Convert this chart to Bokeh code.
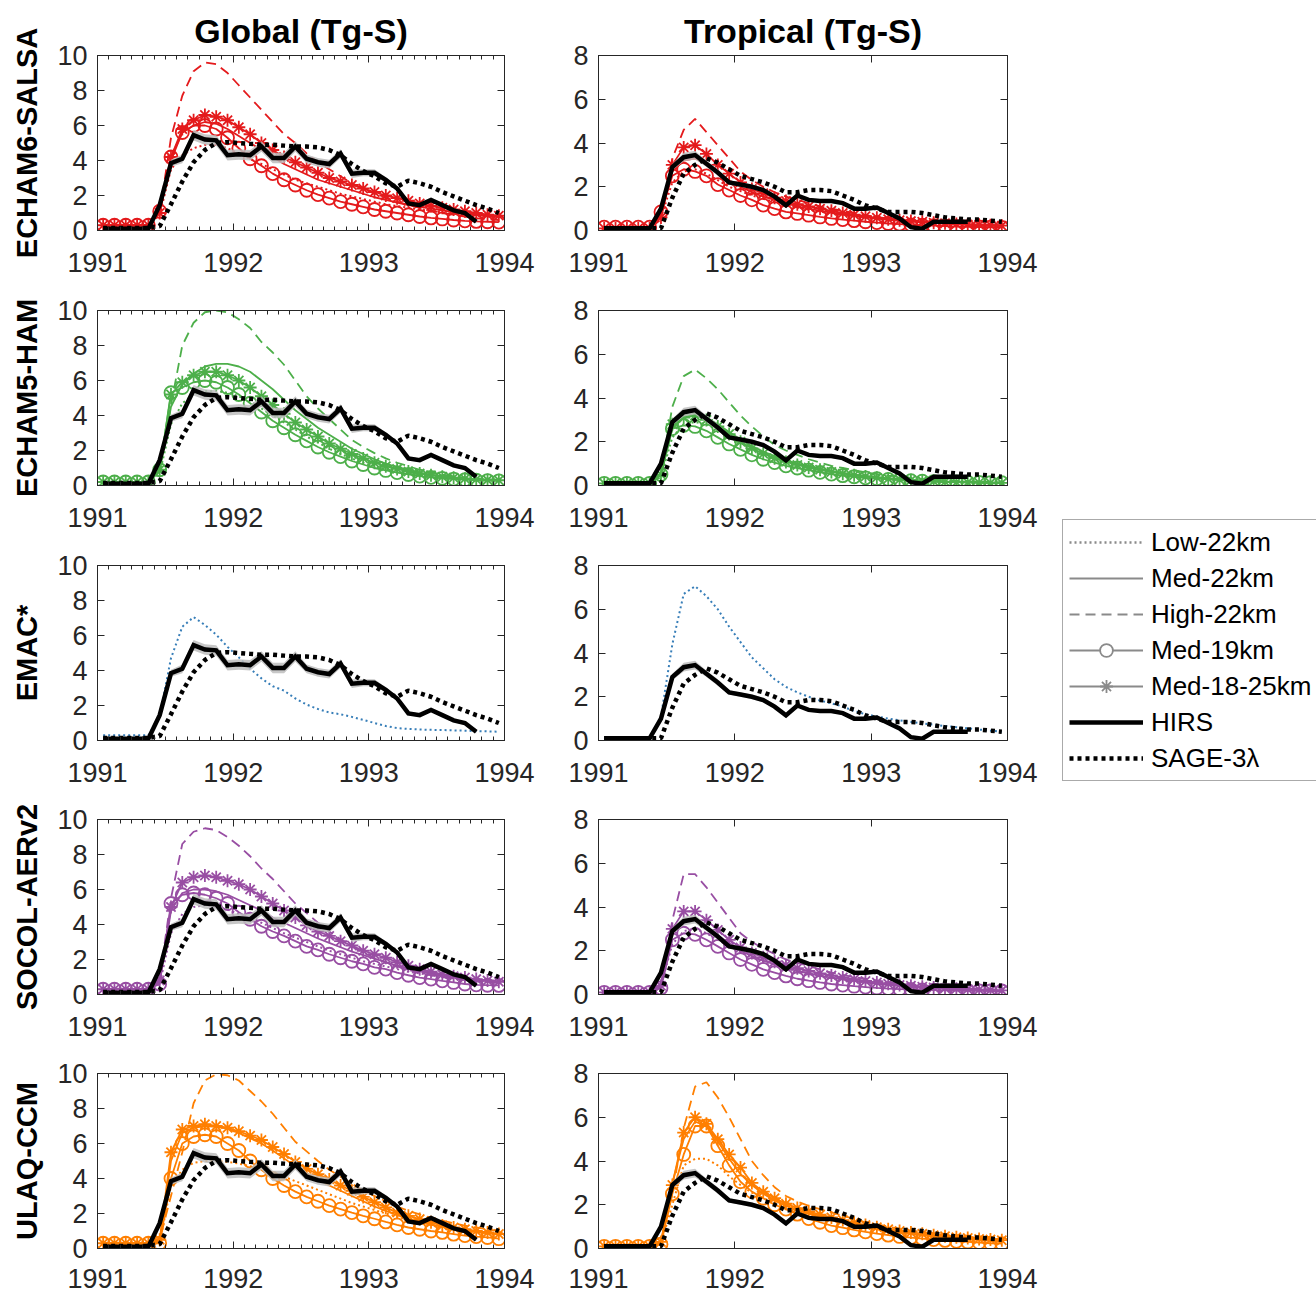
from bokeh.plotting import figure
from bokeh.layouts import row, column
from bokeh.models import (FixedTicker, LinearAxis, Legend, LegendItem, Spacer, Range1d,
                          ColumnDataSource, CustomLabelingPolicy)
from bokeh.embed import file_html
from bokeh.resources import INLINE

# ---------------- data (Tg-S), monthly mid-month values Jan 1991 .. Dec 1993 ----------------
months = list(range(36))
year_ticks = [1991, 1992, 1993, 1994]
glob_yticks = [0, 2, 4, 6, 8, 10]
trop_yticks = [0, 2, 4, 6, 8]

hirs_glob = [0.1, 0.1, 0.1, 0.1, 0.1, 1.45, 3.85, 4.1, 5.45, 5.2, 5.15, 4.3, 4.35, 4.3, 4.8,
             4.15, 4.15, 4.8, 4.1, 3.9, 3.8, 4.4, 3.25, 3.3, 3.3, 2.9, 2.4, 1.55, 1.45, 1.75,
             1.45, 1.15, 1.0, 0.5]
hirs_glob_err = [0, 0, 0, 0, 0, 0.1, 0.2, 0.25, 0.3, 0.3, 0.3, 0.3, 0.3, 0.3, 0.3,
                 0.3, 0.3, 0.3, 0.25, 0.25, 0.25, 0.25, 0.25, 0.2, 0.2, 0.15, 0.1, 0.1, 0.1, 0.1,
                 0.1, 0.1, 0.1, 0.1]
hirs_trop = [0.1, 0.1, 0.1, 0.1, 0.1, 1.0, 2.9, 3.35, 3.45, 3.05, 2.65, 2.2, 2.1, 2.0, 1.85,
             1.55, 1.15, 1.6, 1.4, 1.35, 1.35, 1.25, 1.0, 1.0, 1.05, 0.8, 0.55, 0.15, 0.08, 0.4,
             0.4, 0.4, 0.4]
hirs_trop_err = [0, 0, 0, 0, 0, 0.05, 0.15, 0.2, 0.2, 0.15, 0.15, 0.1, 0.1, 0.1, 0.1,
                 0.1, 0.08, 0.08, 0.08, 0.08, 0.08, 0.08, 0.08, 0.08, 0.08, 0.05, 0.05, 0.05, 0.05, 0.05,
                 0.05, 0.05, 0.05]
sage_glob = [0.15, 0.15, 0.15, 0.15, 0.15, 0.25, 1.5, 2.8, 3.9, 4.6, 5.0, 5.05, 5.0, 4.95, 4.9,
             4.9, 4.85, 4.8, 4.8, 4.75, 4.6, 4.3, 3.8, 3.4, 3.1, 2.7, 2.5, 2.85, 2.7, 2.5,
             2.2, 1.95, 1.7, 1.45, 1.25, 1.0]
sage_trop = [0.1, 0.1, 0.1, 0.1, 0.1, 0.1, 1.5, 2.6, 3.0, 3.3, 3.1, 2.8, 2.5, 2.35, 2.2,
             2.0, 1.75, 1.75, 1.85, 1.85, 1.8, 1.6, 1.4, 1.15, 1.0, 0.85, 0.85, 0.85, 0.8, 0.7,
             0.6, 0.55, 0.5, 0.5, 0.45, 0.4]

# ECHAM6-SALSA
e6g_low = [0.3, 0.3, 0.3, 0.3, 0.3, 0.9, 3.5, 4.3, 4.7, 4.9, 4.9, 4.7, 4.4, 4.1, 3.8, 3.5, 3.2, 2.9, 2.7, 2.5,
           2.3, 2.1, 1.95, 1.8, 1.65, 1.5, 1.4, 1.3, 1.2, 1.1, 1.0, 0.95, 0.9, 0.85, 0.8, 0.75]
e6g_med = [0.3, 0.3, 0.3, 0.3, 0.3, 1.0, 4.0, 5.6, 6.0, 6.2, 6.1, 5.8, 5.4, 5.0, 4.6, 4.2, 3.8, 3.5, 3.2, 2.9,
           2.7, 2.5, 2.3, 2.1, 1.9, 1.75, 1.6, 1.45, 1.35, 1.25, 1.15, 1.05, 0.95, 0.9, 0.85, 0.8]
e6g_high = [0.3, 0.3, 0.3, 0.3, 0.3, 1.0, 5.3, 7.7, 9.1, 9.6, 9.5, 9.0, 8.3, 7.6, 6.9, 6.2, 5.5, 5.0, 4.4, 3.9,
            3.5, 3.1, 2.7, 2.4, 2.1, 1.85, 1.65, 1.45, 1.3, 1.15, 1.0, 0.9, 0.8, 0.7, 0.65, 0.6]
e6g_m19 = [0.3, 0.3, 0.3, 0.3, 0.3, 1.1, 4.2, 5.6, 6.0, 6.0, 5.8, 5.3, 4.7, 4.1, 3.7, 3.25, 2.9, 2.6, 2.3, 2.05,
           1.85, 1.65, 1.5, 1.35, 1.2, 1.1, 1.0, 0.9, 0.8, 0.72, 0.66, 0.6, 0.55, 0.52, 0.5, 0.48]
e6g_m1825 = [0.3, 0.3, 0.3, 0.3, 0.3, 1.0, 4.2, 5.8, 6.3, 6.6, 6.5, 6.3, 5.9, 5.5, 5.0, 4.6, 4.2, 3.9, 3.6, 3.3,
             3.0, 2.8, 2.6, 2.4, 2.2, 2.0, 1.85, 1.7, 1.55, 1.4, 1.3, 1.2, 1.1, 1.0, 0.9, 0.85]
e6t_low = [0.1, 0.1, 0.1, 0.1, 0.1, 0.6, 2.2, 2.7, 2.8, 2.6, 2.3, 2.0, 1.8, 1.6, 1.45, 1.3, 1.15, 1.05, 0.95, 0.87,
           0.8, 0.72, 0.66, 0.6, 0.55, 0.5, 0.46, 0.42, 0.39, 0.36, 0.33, 0.31, 0.29, 0.27, 0.25, 0.24]
e6t_med = [0.1, 0.1, 0.1, 0.1, 0.1, 0.7, 2.7, 3.2, 3.3, 3.0, 2.6, 2.3, 2.0, 1.75, 1.55, 1.4, 1.25, 1.1, 1.0, 0.9,
           0.82, 0.74, 0.66, 0.6, 0.54, 0.49, 0.45, 0.41, 0.37, 0.34, 0.31, 0.28, 0.26, 0.24, 0.22, 0.2]
e6t_high = [0.1, 0.1, 0.1, 0.1, 0.1, 0.5, 3.3, 4.6, 5.1, 4.5, 3.9, 3.3, 2.7, 2.3, 2.0, 1.75, 1.55, 1.4, 1.25, 1.1,
            1.0, 0.9, 0.8, 0.7, 0.62, 0.55, 0.5, 0.45, 0.4, 0.37, 0.34, 0.31, 0.29, 0.27, 0.25, 0.24]
e6t_m19 = [0.15, 0.15, 0.15, 0.15, 0.15, 0.85, 2.5, 2.8, 2.7, 2.5, 2.1, 1.85, 1.6, 1.4, 1.16, 1.0, 0.85, 0.78, 0.7, 0.62,
           0.55, 0.5, 0.45, 0.4, 0.36, 0.32, 0.29, 0.26, 0.24, 0.22, 0.2, 0.18, 0.17, 0.16, 0.15, 0.14]
e6t_m1825 = [0.1, 0.1, 0.1, 0.1, 0.1, 0.6, 3.0, 3.8, 3.9, 3.5, 3.0, 2.6, 2.2, 1.9, 1.7, 1.5, 1.35, 1.2, 1.1, 1.0,
             0.9, 0.8, 0.72, 0.65, 0.58, 0.52, 0.47, 0.43, 0.4, 0.36, 0.33, 0.3, 0.28, 0.26, 0.24, 0.22]

# ECHAM5-HAM
e5g_low = [0.2, 0.2, 0.2, 0.2, 0.2, 0.7, 3.5, 4.7, 5.2, 5.4, 5.4, 5.3, 5.1, 4.8, 4.4, 4.0, 3.6, 3.2, 2.8, 2.45,
           2.1, 1.8, 1.55, 1.3, 1.1, 0.95, 0.8, 0.68, 0.58, 0.5, 0.44, 0.39, 0.35, 0.32, 0.3, 0.28]
e5g_med = [0.2, 0.2, 0.2, 0.2, 0.2, 0.8, 4.5, 5.8, 6.4, 6.8, 6.95, 6.95, 6.8, 6.5, 6.0, 5.5, 4.9, 4.3, 3.8, 3.3,
           2.9, 2.5, 2.1, 1.8, 1.5, 1.25, 1.05, 0.88, 0.74, 0.62, 0.53, 0.46, 0.41, 0.37, 0.34, 0.32]
e5g_high = [0.2, 0.2, 0.2, 0.2, 0.2, 1.0, 4.6, 8.0, 9.3, 9.9, 10.0, 9.9, 9.5, 9.0, 8.2, 7.6, 6.9, 6.0, 5.1, 4.4,
            3.8, 3.2, 2.6, 2.2, 1.85, 1.55, 1.3, 1.1, 0.9, 0.75, 0.62, 0.52, 0.45, 0.4, 0.36, 0.33]
e5g_m19 = [0.2, 0.2, 0.2, 0.2, 0.2, 0.9, 5.3, 5.6, 5.9, 6.0, 5.9, 5.6, 5.2, 4.7, 4.2, 3.7, 3.3, 2.9, 2.55, 2.2,
           1.9, 1.65, 1.4, 1.2, 1.0, 0.86, 0.74, 0.63, 0.54, 0.47, 0.41, 0.37, 0.33, 0.3, 0.28, 0.27]
e5g_m1825 = [0.2, 0.2, 0.2, 0.2, 0.2, 0.9, 5.2, 5.9, 6.3, 6.5, 6.5, 6.3, 6.0, 5.6, 5.1, 4.6, 4.1, 3.6, 3.2, 2.8,
             2.4, 2.1, 1.8, 1.55, 1.3, 1.1, 0.95, 0.8, 0.68, 0.58, 0.5, 0.44, 0.39, 0.35, 0.32, 0.3]
e5t_low = [0.1, 0.1, 0.1, 0.1, 0.1, 0.4, 2.2, 2.8, 2.9, 2.8, 2.55, 2.25, 1.95, 1.7, 1.45, 1.25, 1.1, 0.95, 0.83, 0.72,
           0.63, 0.55, 0.48, 0.42, 0.37, 0.32, 0.28, 0.25, 0.22, 0.2, 0.18, 0.16, 0.15, 0.14, 0.13, 0.12]
e5t_med = [0.1, 0.1, 0.1, 0.1, 0.1, 0.5, 2.6, 3.1, 3.3, 3.1, 2.8, 2.45, 2.1, 1.8, 1.55, 1.35, 1.15, 1.0, 0.88, 0.77,
           0.67, 0.58, 0.5, 0.44, 0.38, 0.33, 0.29, 0.25, 0.22, 0.2, 0.18, 0.16, 0.15, 0.14, 0.13, 0.12]
e5t_high = [0.1, 0.1, 0.1, 0.1, 0.1, 0.6, 3.6, 5.0, 5.3, 4.9, 4.4, 3.8, 3.2, 2.7, 2.25, 1.85, 1.6, 1.4, 1.2, 1.05,
            0.9, 0.8, 0.7, 0.6, 0.52, 0.45, 0.4, 0.35, 0.3, 0.27, 0.24, 0.21, 0.19, 0.17, 0.16, 0.15]
e5t_m19 = [0.1, 0.1, 0.1, 0.1, 0.1, 0.5, 2.6, 2.75, 2.7, 2.5, 2.2, 1.9, 1.65, 1.4, 1.2, 1.05, 0.9, 0.8, 0.7, 0.6,
           0.52, 0.45, 0.4, 0.35, 0.31, 0.28, 0.25, 0.22, 0.2, 0.18, 0.17, 0.16, 0.15, 0.14, 0.13, 0.13]
e5t_m1825 = [0.1, 0.1, 0.1, 0.1, 0.1, 0.5, 2.8, 3.1, 3.2, 3.0, 2.7, 2.35, 2.0, 1.7, 1.45, 1.25, 1.08, 0.94, 0.82, 0.72,
             0.62, 0.54, 0.47, 0.41, 0.36, 0.31, 0.27, 0.24, 0.21, 0.19, 0.17, 0.15, 0.14, 0.13, 0.12, 0.12]

# EMAC (single experiment)
emac_g = [0.3, 0.3, 0.3, 0.3, 0.3, 1.4, 4.7, 6.5, 7.05, 6.6, 6.05, 5.35, 4.75, 4.1, 3.55, 3.1, 2.85, 2.4, 2.05, 1.8,
          1.6, 1.5, 1.35, 1.18, 1.0, 0.83, 0.71, 0.66, 0.63, 0.61, 0.6, 0.58, 0.56, 0.54, 0.52, 0.5]
emac_t = [0.1, 0.1, 0.1, 0.1, 0.1, 1.1, 4.4, 6.7, 7.05, 6.6, 6.0, 5.2, 4.5, 3.8, 3.3, 2.8, 2.45, 2.2, 2.0, 1.82,
          1.7, 1.55, 1.35, 1.2, 1.1, 1.0, 0.92, 0.85, 0.78, 0.72, 0.66, 0.61, 0.56, 0.5, 0.45, 0.4]

# SOCOL-AERv2
sg_low = [0.3, 0.3, 0.3, 0.3, 0.3, 0.6, 3.5, 4.6, 5.0, 5.1, 5.0, 4.85, 4.6, 4.35, 4.1, 3.8, 3.5, 3.25, 3.0, 2.75,
          2.5, 2.3, 2.1, 1.9, 1.75, 1.6, 1.45, 1.3, 1.2, 1.1, 1.0, 0.92, 0.85, 0.78, 0.72, 0.67]
sg_med = [0.3, 0.3, 0.3, 0.3, 0.3, 0.7, 4.8, 5.8, 6.0, 6.0, 5.9, 5.7, 5.4, 5.1, 4.8, 4.4, 4.1, 3.8, 3.5, 3.2,
          2.95, 2.7, 2.45, 2.25, 2.05, 1.85, 1.65, 1.5, 1.35, 1.2, 1.1, 1.0, 0.9, 0.82, 0.76, 0.7]
sg_high = [0.3, 0.3, 0.3, 0.3, 0.3, 0.9, 5.5, 8.6, 9.3, 9.5, 9.4, 9.0, 8.5, 7.9, 7.2, 6.6, 5.9, 5.2, 4.65, 4.1,
           3.6, 3.15, 2.75, 2.4, 2.1, 1.85, 1.6, 1.4, 1.25, 1.1, 1.0, 0.9, 0.82, 0.75, 0.7, 0.65]
sg_m19 = [0.3, 0.3, 0.3, 0.3, 0.3, 0.6, 5.2, 5.7, 5.8, 5.7, 5.5, 5.2, 4.7, 4.3, 3.9, 3.6, 3.35, 3.05, 2.75, 2.55,
          2.3, 2.1, 1.9, 1.75, 1.55, 1.45, 1.25, 1.1, 0.97, 0.88, 0.78, 0.69, 0.6, 0.55, 0.53, 0.52]
sg_m1825 = [0.3, 0.3, 0.3, 0.3, 0.3, 0.8, 5.0, 6.4, 6.7, 6.8, 6.7, 6.5, 6.3, 6.0, 5.6, 5.2, 4.8, 4.4, 3.95, 3.6,
            3.35, 3.05, 2.8, 2.5, 2.3, 2.1, 1.85, 1.65, 1.45, 1.3, 1.15, 1.05, 0.97, 0.88, 0.8, 0.73]
st_low = [0.1, 0.1, 0.1, 0.1, 0.1, 0.4, 2.3, 2.9, 3.0, 2.8, 2.5, 2.2, 1.95, 1.72, 1.52, 1.35, 1.2, 1.07, 0.96, 0.86,
          0.77, 0.69, 0.62, 0.56, 0.5, 0.45, 0.41, 0.37, 0.34, 0.31, 0.28, 0.26, 0.24, 0.22, 0.21, 0.2]
st_med = [0.1, 0.1, 0.1, 0.1, 0.1, 0.4, 2.9, 3.4, 3.4, 3.1, 2.7, 2.35, 2.0, 1.75, 1.55, 1.38, 1.22, 1.08, 0.96, 0.86,
          0.77, 0.69, 0.62, 0.55, 0.49, 0.44, 0.39, 0.35, 0.32, 0.29, 0.26, 0.24, 0.22, 0.2, 0.19, 0.18]
st_high = [0.1, 0.1, 0.1, 0.1, 0.1, 0.5, 3.4, 5.5, 5.5, 4.9, 4.2, 3.5, 2.8, 2.4, 2.1, 1.85, 1.6, 1.45, 1.3, 1.15,
           1.0, 0.9, 0.8, 0.72, 0.64, 0.57, 0.5, 0.45, 0.4, 0.36, 0.33, 0.3, 0.28, 0.26, 0.24, 0.22]
st_m19 = [0.1, 0.1, 0.1, 0.1, 0.1, 0.3, 2.5, 2.8, 2.75, 2.5, 2.2, 1.9, 1.6, 1.38, 1.15, 1.0, 0.85, 0.72, 0.63, 0.55,
          0.48, 0.43, 0.38, 0.34, 0.3, 0.27, 0.25, 0.23, 0.21, 0.2, 0.19, 0.18, 0.17, 0.17, 0.16, 0.16]
st_m1825 = [0.1, 0.1, 0.1, 0.1, 0.1, 0.4, 3.0, 3.8, 3.8, 3.4, 2.95, 2.5, 2.15, 1.9, 1.7, 1.5, 1.35, 1.2, 1.08, 0.97,
            0.87, 0.78, 0.7, 0.62, 0.55, 0.49, 0.44, 0.4, 0.36, 0.32, 0.29, 0.26, 0.24, 0.22, 0.2, 0.19]

# ULAQ-CCM
ug_low = [0.3, 0.3, 0.3, 0.3, 0.3, 0.3, 3.6, 4.5, 4.9, 5.0, 5.0, 4.95, 4.85, 4.7, 4.55, 4.35, 4.1, 3.85, 3.6, 3.35,
          3.1, 2.85, 2.6, 2.4, 2.2, 2.0, 1.82, 1.65, 1.5, 1.37, 1.25, 1.15, 1.05, 0.97, 0.9, 0.83]
ug_med = [0.3, 0.3, 0.3, 0.3, 0.3, 0.4, 5.0, 6.6, 6.9, 7.0, 6.95, 6.85, 6.6, 6.3, 6.0, 5.6, 5.15, 4.7, 4.3, 3.95,
          3.6, 3.3, 3.0, 2.7, 2.4, 2.15, 1.9, 1.7, 1.52, 1.37, 1.23, 1.12, 1.02, 0.94, 0.87, 0.8]
ug_high = [0.3, 0.3, 0.3, 0.3, 0.3, 0.5, 3.0, 5.5, 8.3, 9.6, 9.95, 9.9, 9.6, 9.0, 8.4, 7.7, 6.9, 6.1, 5.55, 5.0,
           4.5, 4.1, 3.7, 3.3, 3.0, 2.7, 2.4, 2.15, 1.95, 1.75, 1.6, 1.45, 1.3, 1.2, 1.1, 1.0]
ug_m19 = [0.3, 0.3, 0.3, 0.3, 0.3, 0.3, 4.0, 6.0, 6.4, 6.5, 6.4, 6.0, 5.6, 5.0, 4.5, 4.0, 3.6, 3.25, 2.95, 2.7,
          2.45, 2.25, 2.05, 1.87, 1.7, 1.52, 1.35, 1.2, 1.1, 1.0, 0.92, 0.82, 0.74, 0.68, 0.63, 0.56]
ug_m1825 = [0.3, 0.3, 0.3, 0.3, 0.3, 0.5, 5.5, 6.8, 7.0, 7.1, 7.0, 6.9, 6.7, 6.45, 6.2, 5.8, 5.4, 4.95, 4.55, 4.25,
            3.95, 3.6, 3.3, 2.95, 2.65, 2.35, 2.05, 1.87, 1.68, 1.5, 1.32, 1.2, 1.1, 1.0, 0.92, 0.83]
ut_low = [0.1, 0.1, 0.1, 0.1, 0.1, 0.2, 2.0, 3.8, 4.1, 4.1, 3.8, 3.3, 2.9, 2.55, 2.3, 2.1, 1.9, 1.75, 1.6, 1.47,
          1.35, 1.23, 1.12, 1.02, 0.93, 0.85, 0.78, 0.72, 0.66, 0.61, 0.56, 0.52, 0.48, 0.45, 0.42, 0.39]
ut_med = [0.1, 0.1, 0.1, 0.1, 0.1, 0.3, 3.0, 5.0, 5.8, 5.6, 4.9, 4.1, 3.4, 2.9, 2.5, 2.2, 1.95, 1.75, 1.58, 1.43,
          1.3, 1.18, 1.07, 0.97, 0.88, 0.8, 0.73, 0.66, 0.6, 0.55, 0.5, 0.46, 0.42, 0.39, 0.36, 0.33]
ut_high = [0.1, 0.1, 0.1, 0.1, 0.1, 0.3, 2.5, 5.5, 7.4, 7.6, 6.9, 6.0, 5.0, 4.0, 3.35, 2.8, 2.4, 2.15, 1.95, 1.8,
           1.65, 1.5, 1.35, 1.2, 1.1, 1.0, 0.9, 0.82, 0.75, 0.69, 0.63, 0.58, 0.53, 0.49, 0.45, 0.42]
ut_m19 = [0.1, 0.1, 0.1, 0.1, 0.1, 0.2, 2.5, 4.3, 5.6, 5.6, 4.7, 3.8, 3.05, 2.6, 2.3, 2.0, 1.8, 1.57, 1.37, 1.2,
          1.05, 0.95, 0.85, 0.76, 0.68, 0.61, 0.55, 0.5, 0.45, 0.41, 0.37, 0.33, 0.3, 0.27, 0.24, 0.22]
ut_m1825 = [0.1, 0.1, 0.1, 0.1, 0.1, 0.3, 2.9, 5.3, 6.0, 5.7, 5.0, 4.3, 3.7, 3.0, 2.6, 2.3, 2.05, 1.85, 1.7, 1.55,
            1.42, 1.3, 1.18, 1.07, 0.97, 0.88, 0.8, 0.73, 0.67, 0.61, 0.56, 0.52, 0.48, 0.44, 0.41, 0.38]

model_names = ["ECHAM6-SALSA", "ECHAM5-HAM", "EMAC*", "SOCOL-AERv2", "ULAQ-CCM"]
model_colors = ["#e41a1c", "#4daf4a", "#377eb8", "#984ea3", "#ff7f00"]
exp_names = ["Low-22km", "Med-22km", "High-22km", "Med-19km", "Med-18-25km"]

model_glob = [
    {"Low-22km": e6g_low, "Med-22km": e6g_med, "High-22km": e6g_high, "Med-19km": e6g_m19, "Med-18-25km": e6g_m1825},
    {"Low-22km": e5g_low, "Med-22km": e5g_med, "High-22km": e5g_high, "Med-19km": e5g_m19, "Med-18-25km": e5g_m1825},
    {"Low-22km": emac_g},
    {"Low-22km": sg_low, "Med-22km": sg_med, "High-22km": sg_high, "Med-19km": sg_m19, "Med-18-25km": sg_m1825},
    {"Low-22km": ug_low, "Med-22km": ug_med, "High-22km": ug_high, "Med-19km": ug_m19, "Med-18-25km": ug_m1825},
]
model_trop = [
    {"Low-22km": e6t_low, "Med-22km": e6t_med, "High-22km": e6t_high, "Med-19km": e6t_m19, "Med-18-25km": e6t_m1825},
    {"Low-22km": e5t_low, "Med-22km": e5t_med, "High-22km": e5t_high, "Med-19km": e5t_m19, "Med-18-25km": e5t_m1825},
    {"Low-22km": emac_t},
    {"Low-22km": st_low, "Med-22km": st_med, "High-22km": st_high, "Med-19km": st_m19, "Med-18-25km": st_m1825},
    {"Low-22km": ut_low, "Med-22km": ut_med, "High-22km": ut_high, "Med-19km": ut_m19, "Med-18-25km": ut_m1825},
]

# ---------------- styling ----------------
FONT = "Liberation Sans"
AXC = "#262626"
TICK_PX = "27px"
FRAME_H = 175
# per-row borders: (top, bottom, x-label standoff)
ROW_BORDERS = [(55, 50, 22), (30, 50, 22), (30, 50, 22), (29, 50, 22), (29, 47, 20)]

HIDE_ALL = CustomLabelingPolicy(code="""
for (const i of Array.from(indices)) { indices.unset(i) }
return indices
""")


def tvals(n):
    return [1991 + (m + 0.5) / 12.0 for m in range(n)]


def style_axis(ax, labels=True):
    ax.axis_line_color = AXC
    ax.axis_line_width = 1
    ax.major_tick_line_color = AXC
    ax.minor_tick_line_color = AXC
    ax.major_tick_in = 7
    ax.major_tick_out = 0
    ax.minor_tick_in = 4
    ax.minor_tick_out = 0
    ax.major_label_text_font = FONT
    ax.major_label_text_color = AXC
    if labels:
        ax.major_label_text_font_size = TICK_PX
    else:
        ax.major_label_text_font_size = "0px"
        ax.major_label_standoff = 0
        ax.major_label_policy = HIDE_ALL


def draw_series(p, data, color):
    if "Low-22km" in data:
        y = data["Low-22km"]
        p.line(tvals(len(y)), y, line_color=color, line_width=2, line_dash="2 3")
    if "Med-22km" in data:
        y = data["Med-22km"]
        p.line(tvals(len(y)), y, line_color=color, line_width=1.8)
    if "High-22km" in data:
        y = data["High-22km"]
        p.line(tvals(len(y)), y, line_color=color, line_width=1.8, line_dash="10 6")
    if "Med-19km" in data:
        y = data["Med-19km"]
        p.line(tvals(len(y)), y, line_color=color, line_width=1.8)
        p.scatter(tvals(len(y)), y, marker="circle", size=13, fill_color=None,
                  line_color=color, line_width=1.8)
    if "Med-18-25km" in data:
        y = data["Med-18-25km"]
        p.line(tvals(len(y)), y, line_color=color, line_width=1.8)
        p.scatter(tvals(len(y)), y, marker="asterisk", size=13, line_color=color, line_width=1.8)


def draw_obs(p, hirs, err, sage):
    th = tvals(len(hirs))
    lo = [h - e for h, e in zip(hirs, err)]
    hi = [h + e for h, e in zip(hirs, err)]
    p.varea(x=th, y1=lo, y2=hi, fill_color="#bdbdbd", fill_alpha=0.85)
    p.line(th, hirs, line_color="black", line_width=4.5, line_join="miter")
    ts = tvals(len(sage))
    p.line(ts, sage, line_color="black", line_width=4.5, line_dash="4 4")


def make_panel(i, is_global):
    left = is_global
    top = (i == 0)
    mbl = 97 if left else 59
    mbr = 35
    fw = 407 if left else 409
    mbt, mbb, xstand = ROW_BORDERS[i]
    ymax = 10 if is_global else 8
    p = figure(width=mbl + fw + mbr, height=mbt + FRAME_H + mbb,
               x_range=Range1d(1991, 1994), y_range=Range1d(0, ymax),
               output_backend="svg", toolbar_location=None,
               min_border_left=mbl, min_border_right=mbr,
               min_border_top=mbt, min_border_bottom=mbb,
               background_fill_color="white", border_fill_color="white")
    p.grid.visible = False
    p.outline_line_color = AXC
    minor = [1991 + k / 12.0 for k in range(37)] if is_global else []
    p.xaxis.ticker = FixedTicker(ticks=year_ticks, minor_ticks=minor)
    p.yaxis.ticker = FixedTicker(ticks=glob_yticks if is_global else trop_yticks, minor_ticks=[])
    style_axis(p.xaxis[0])
    style_axis(p.yaxis[0])
    p.xaxis[0].major_label_standoff = xstand
    p.yaxis[0].major_label_standoff = 10
    ax_top = LinearAxis(ticker=FixedTicker(ticks=year_ticks, minor_ticks=minor))
    ax_right = LinearAxis(ticker=FixedTicker(ticks=glob_yticks if is_global else trop_yticks, minor_ticks=[]))
    style_axis(ax_top, labels=False)
    style_axis(ax_right, labels=False)
    p.add_layout(ax_top, "above")
    p.add_layout(ax_right, "right")
    if left:
        p.yaxis[0].axis_label = model_names[i]
        p.yaxis[0].axis_label_text_font = FONT
        p.yaxis[0].axis_label_text_font_style = "bold"
        p.yaxis[0].axis_label_text_font_size = "29px"
        p.yaxis[0].axis_label_text_color = "black"
        p.yaxis[0].axis_label_standoff = 11
    if top:
        p.title.text = "Global (Tg-S)" if is_global else "Tropical (Tg-S)"
        p.title.align = "center"
        p.title.text_font = FONT
        p.title.text_font_size = "34px"
        p.title.text_font_style = "bold"
        p.title.text_color = "black"
        p.title.standoff = 12
    data = model_glob[i] if is_global else model_trop[i]
    draw_series(p, data, model_colors[i])
    if is_global:
        draw_obs(p, hirs_glob, hirs_glob_err, sage_glob)
    else:
        draw_obs(p, hirs_trop, hirs_trop_err, sage_trop)
    return p


left_figs = [make_panel(i, True) for i in range(5)]
right_figs = [make_panel(i, False) for i in range(5)]

# ---------------- legend ----------------
lg = figure(width=274, height=268, x_range=Range1d(0, 1), y_range=Range1d(0, 1),
            output_backend="svg", toolbar_location=None, min_border=0,
            outline_line_color=None, background_fill_color="white", border_fill_color="white")
lg.axis.visible = False
lg.grid.visible = False
GRAY = "#8a8a8a"
dummy = ColumnDataSource(dict(x=[-5], y=[-5]))
r_low = lg.line("x", "y", source=dummy, line_color=GRAY, line_width=2.5, line_dash="2 3")
r_med = lg.line("x", "y", source=dummy, line_color=GRAY, line_width=1.8)
r_high = lg.line("x", "y", source=dummy, line_color=GRAY, line_width=1.8, line_dash="10 6")
r_m19l = lg.line("x", "y", source=dummy, line_color=GRAY, line_width=1.8)
r_m19s = lg.scatter("x", "y", source=dummy, marker="circle", size=14, fill_color="white",
                    line_color=GRAY, line_width=1.8)
r_m25l = lg.line("x", "y", source=dummy, line_color=GRAY, line_width=1.8)
r_m25s = lg.scatter("x", "y", source=dummy, marker="asterisk", size=13, line_color=GRAY, line_width=1.8)
r_hirs = lg.line("x", "y", source=dummy, line_color="black", line_width=4.5)
r_sage = lg.line("x", "y", source=dummy, line_color="black", line_width=4.5, line_dash="4 4")
items = [
    LegendItem(label="Low-22km", renderers=[r_low]),
    LegendItem(label="Med-22km", renderers=[r_med]),
    LegendItem(label="High-22km", renderers=[r_high]),
    LegendItem(label="Med-19km", renderers=[r_m19l, r_m19s]),
    LegendItem(label="Med-18-25km", renderers=[r_m25l, r_m25s]),
    LegendItem(label="HIRS", renderers=[r_hirs]),
    LegendItem(label="SAGE-3λ", renderers=[r_sage]),
]
legend = Legend(items=items, location=(20, 2), orientation="vertical",
                label_text_font=FONT, label_text_font_size="26px", label_text_color="black",
                glyph_width=74, glyph_height=32, label_height=32, label_standoff=8,
                spacing=4, padding=6, margin=0,
                border_line_color="#555555", border_line_width=1,
                background_fill_color="white", background_fill_alpha=1)
lg.add_layout(legend, "center")

left_col = column(*left_figs)
right_col = column(*right_figs)
leg_col = column(Spacer(width=274, height=515), lg)
layout = row(left_col, right_col, leg_col)

open("out.html", "w").write(file_html(layout, INLINE))
